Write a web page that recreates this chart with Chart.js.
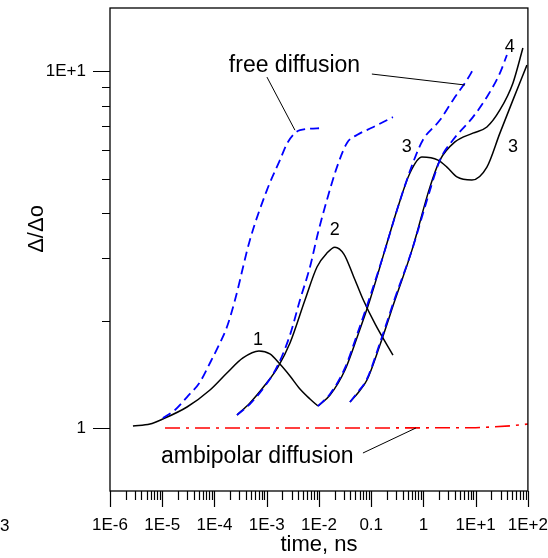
<!DOCTYPE html>
<html>
<head>
<meta charset="utf-8">
<script src="https://cdn.jsdelivr.net/npm/chart.js@4/dist/chart.umd.min.js"></script>
<style>
  html, body { margin: 0; padding: 0; background: #fff; }
  #wrap { width: 548px; height: 558px; }
</style>
</head>
<body>
<div id="wrap"><canvas id="c" width="548" height="558"></canvas></div>
<script>
// ---------- DATA (time in ns, value = Δ/Δo) ----------
const curve1Time  = [2.75e-6, 5.83e-6, 1.03e-5, 2.98e-5, 8.2e-5, 1.73e-4, 3.51e-4, 7.11e-4, 1.15e-3, 1.79e-3, 2.79e-3, 4.33e-3, 6.73e-3, 9.58e-3];
const curve1Value = [1.013, 1.026, 1.06, 1.145, 1.278, 1.426, 1.571, 1.643, 1.612, 1.51, 1.398, 1.286, 1.206, 1.152];

const free1Time  = [1.03e-5, 1.75e-5, 2.98e-5, 5.27e-5, 8.2e-5, 1.27e-4, 1.73e-4, 2.47e-4, 4.77e-4, 1.01e-3, 1.79e-3, 2.55e-3, 4.33e-3, 1.14e-2];
const free1Value = [1.067, 1.123, 1.221, 1.345, 1.521, 1.730, 1.918, 2.283, 3.363, 4.64, 5.63, 6.33, 6.83, 6.92];

const curve2Time  = [2.70e-4, 4.77e-4, 9.27e-4, 1.64e-3, 2.79e-3, 5.40e-3, 9.17e-3, 1.42e-2, 2.02e-2, 3.0e-2, 4.5e-2, 7.0e-2, 0.120, 0.261];
const curve2Value = [1.087, 1.175, 1.319, 1.482, 1.730, 2.283, 2.825, 3.09, 3.21, 3.07, 2.68, 2.29, 1.95, 1.60];

const free2Time  = [2.70e-4, 4.77e-4, 9.27e-4, 1.64e-3, 2.79e-3, 4.33e-3, 6.73e-3, 9.58e-3, 1.42e-2, 2.21e-2, 3.44e-2, 5.33e-2, 0.108, 0.261];
const free2Value = [1.087, 1.167, 1.311, 1.501, 1.822, 2.283, 2.825, 3.52, 4.35, 5.38, 6.29, 6.62, 6.96, 7.43];

const curve3Time  = [9.58e-3, 1.63e-2, 3.15e-2, 5.57e-2, 9.46e-2, 0.183, 0.325, 0.552, 0.935, 1.90, 2.82, 4.38, 8.47, 16.4, 29.1, 51.6, 95.7];
const curve3Value = [1.152, 1.237, 1.454, 1.822, 2.283, 3.15, 4.16, 5.18, 5.74, 5.63, 5.38, 5.05, 4.95, 5.38, 6.70, 8.29, 10.39];

const free3Time  = [9.58e-3, 1.63e-2, 3.15e-2, 5.57e-2, 9.46e-2, 0.183, 0.325, 0.630, 0.977, 2.07, 3.67, 6.80, 8.85];
const free3Value = [1.152, 1.245, 1.473, 1.857, 2.328, 3.15, 4.16, 5.53, 6.41, 7.29, 8.29, 9.44, 10.07];

const curve4Time  = [3.92e-2, 5.57e-2, 8.30e-2, 0.147, 0.285, 0.603, 1.33, 2.07, 4.01, 8.85, 16.4, 29.1, 51.6, 80.2];
const curve4Value = [1.183, 1.253, 1.363, 1.708, 2.283, 3.15, 4.73, 5.63, 6.33, 6.70, 6.97, 7.78, 9.25, 11.60];

const free4Time  = [3.92e-2, 5.57e-2, 8.30e-2, 0.147, 0.285, 0.603, 1.17, 2.07, 3.67, 8.85, 16.4, 29.1, 39.6];
const free4Value = [1.183, 1.261, 1.372, 1.730, 2.312, 3.15, 4.35, 5.63, 6.41, 7.43, 8.46, 9.87, 11.09];

const ambipolarTime  = [1.13e-5, 1e-3, 0.1, 10, 20, 50, 100];
const ambipolarValue = [1.0, 1.0, 1.0, 1.002, 1.006, 1.015, 1.026];

// ---------- AXES ----------
const xMin = 1e-6, xMax = 1e2;
const yMin = 0.666, yMax = 15.02;
const xTickValues = [1e-6, 1e-5, 1e-4, 1e-3, 1e-2, 0.1, 1, 10, 100];
const xTickLabels = ['1E-6', '1E-5', '1E-4', '1E-3', '1E-2', '0.1', '1', '1E+1', '1E+2'];
const yTickValues = [1, 10];
const yTickLabels = ['1', '1E+1'];
const yMinorValues = [2, 3, 4, 5, 6, 7, 8, 9];
const xTitle = 'time, ns';
const yTitle = 'Δ/Δo';

// ---------- ANNOTATIONS ----------
const noteTexts  = ['free diffusion', 'ambipolar diffusion', '1', '2', '3', '4', '3'];
const noteTimes  = [3.4e-3, 6.6e-4, 6.8e-4, 2.0e-2, 0.48, 45, 52];
const noteValues = [10.33, 0.83, 1.76, 3.59, 6.12, 11.7, 6.12];
const leaderFromTime  = [1.01e-3, 0.103, 6.95e-2];
const leaderFromValue = [9.62, 9.81, 0.851];
const leaderToTime    = [3.47e-3, 6.23, 0.718];
const leaderToValue   = [6.83, 9.14, 1.0];

const FONT = "'Liberation Sans', Arial, sans-serif";

function pts(t, v) { return t.map((tt, i) => ({ x: tt, y: v[i] })); }
function findLabel(val, vals, labels) {
  for (let i = 0; i < vals.length; i++) {
    if (Math.abs(val - vals[i]) / vals[i] < 1e-6) return labels[i];
  }
  return '';
}

const solid = (t, v) => ({ data: pts(t, v), borderColor: '#000', borderWidth: 1.5, pointRadius: 0, showLine: true, fill: false, cubicInterpolationMode: 'monotone', order: 2 });
const dashed = (t, v) => ({ data: pts(t, v), borderColor: '#0000ff', borderWidth: 1.8, borderDash: [9, 5], pointRadius: 0, showLine: true, fill: false, cubicInterpolationMode: 'monotone', order: 1 });

const framePlugin = {
  id: 'frame',
  afterDraw(chart) {
    const { ctx, chartArea: { left, right, top, bottom }, scales: { x, y } } = chart;
    ctx.save();
    ctx.strokeStyle = '#000';
    ctx.lineWidth = 1.3;
    ctx.strokeRect(left, top, right - left, bottom - top);
    ctx.lineWidth = 1.2;
    ctx.beginPath();
    for (let i = 0; i < xTickValues.length; i++) {
      const d = xTickValues[i];
      const px = Math.round(x.getPixelForValue(d)) + 0.5;
      ctx.moveTo(px, bottom); ctx.lineTo(px, bottom + 16);
      if (i < xTickValues.length - 1) {
        for (let m = 2; m <= 9; m++) {
          const pm = Math.round(x.getPixelForValue(m * d)) + 0.5;
          ctx.moveTo(pm, bottom); ctx.lineTo(pm, bottom + 9);
        }
      }
    }
    yTickValues.forEach(v => {
      const py = Math.round(y.getPixelForValue(v)) + 0.5;
      ctx.moveTo(left, py); ctx.lineTo(left - 17, py);
    });
    yMinorValues.forEach(v => {
      const py = Math.round(y.getPixelForValue(v)) + 0.5;
      ctx.moveTo(left, py); ctx.lineTo(left - 8, py);
    });
    ctx.stroke();

    ctx.lineWidth = 1;
    ctx.beginPath();
    for (let i = 0; i < leaderFromTime.length; i++) {
      ctx.moveTo(x.getPixelForValue(leaderFromTime[i]), y.getPixelForValue(leaderFromValue[i]));
      ctx.lineTo(x.getPixelForValue(leaderToTime[i]), y.getPixelForValue(leaderToValue[i]));
    }
    ctx.stroke();

    ctx.fillStyle = '#000';
    ctx.textAlign = 'center';
    ctx.textBaseline = 'middle';
    for (let i = 0; i < noteTexts.length; i++) {
      ctx.font = (noteTexts[i].length > 2 ? '23px ' : '18px ') + FONT;
      ctx.fillText(noteTexts[i], x.getPixelForValue(noteTimes[i]), y.getPixelForValue(noteValues[i]));
    }
    ctx.font = '22px ' + FONT;
    ctx.save();
    ctx.translate(37, 229);
    ctx.rotate(-Math.PI / 2);
    ctx.fillText(yTitle, 0, 0);
    ctx.restore();
    ctx.fillText(xTitle, (left + right) / 2, 545);
    ctx.font = '17px ' + FONT;
    ctx.textAlign = 'left';
    ctx.fillText('3', 0, 526);
    ctx.restore();
  }
};

new Chart(document.getElementById('c'), {
  type: 'scatter',
  data: {
    datasets: [
      solid(curve1Time, curve1Value),
      dashed(free1Time, free1Value),
      solid(curve2Time, curve2Value),
      dashed(free2Time, free2Value),
      solid(curve3Time, curve3Value),
      dashed(free3Time, free3Value),
      solid(curve4Time, curve4Value),
      dashed(free4Time, free4Value),
      { data: pts(ambipolarTime, ambipolarValue), borderColor: '#ff0000', borderWidth: 1.6, borderDash: [15, 6, 3, 6], pointRadius: 0, showLine: true, fill: false, order: 3 }
    ]
  },
  options: {
    responsive: false,
    animation: false,
    devicePixelRatio: 1,
    layout: { padding: { top: 8, right: 20, left: 0, bottom: 0 } },
    plugins: { legend: { display: false }, tooltip: { enabled: false } },
    scales: {
      x: {
        type: 'logarithmic',
        min: xMin, max: xMax,
        grid: { display: true, drawOnChartArea: false, drawTicks: true, tickLength: 24, tickColor: 'rgba(0,0,0,0)', color: 'rgba(0,0,0,0)' },
        border: { display: false },
        ticks: {
          autoSkip: false, maxRotation: 0, minRotation: 0, padding: 0,
          color: '#000', font: { family: FONT, size: 17 },
          callback: (v) => findLabel(v, xTickValues, xTickLabels)
        },
        title: { display: false },
        afterFit: (s) => { s.height = 67; }
      },
      y: {
        type: 'logarithmic',
        min: yMin, max: yMax,
        grid: { display: true, drawOnChartArea: false, drawTicks: true, tickLength: 24, tickColor: 'rgba(0,0,0,0)', color: 'rgba(0,0,0,0)' },
        border: { display: false },
        ticks: {
          autoSkip: false, padding: 0,
          color: '#000', font: { family: FONT, size: 17, lineHeight: 0.9 },
          callback: (v) => findLabel(v, yTickValues, yTickLabels)
        },
        title: { display: false },
        afterFit: (s) => { s.width = 110; }
      }
    }
  },
  plugins: [framePlugin]
});
</script>
</body>
</html>
